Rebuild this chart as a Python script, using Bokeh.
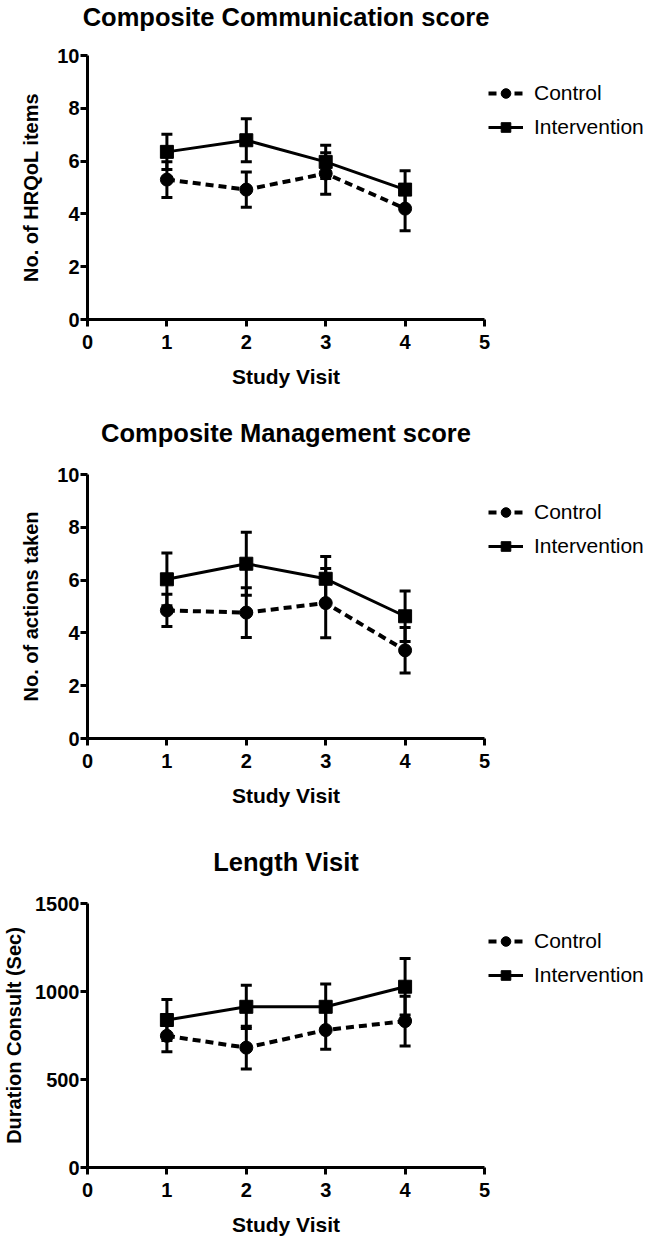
from bokeh.plotting import figure
from bokeh.models import (Range1d, Legend, LegendItem, Whisker, TeeHead,
                          ColumnDataSource, FixedTicker, LinearAxis)
from bokeh.layouts import column
from bokeh.embed import file_html
from bokeh.resources import INLINE

# ---------------- data ----------------
visits = [1, 2, 3, 4]
x_ticks = [0, 1, 2, 3, 4, 5]

comm_control = [5.30, 4.92, 5.53, 4.20]
comm_control_sem = [0.68, 0.67, 0.79, 0.84]
comm_interv = [6.35, 6.79, 5.97, 4.92]
comm_interv_sem = [0.67, 0.81, 0.63, 0.71]
comm_yticks = [0, 2, 4, 6, 8, 10]

mgmt_control = [4.85, 4.77, 5.13, 3.34]
mgmt_control_sem = [0.61, 0.94, 1.31, 0.86]
mgmt_interv = [6.03, 6.62, 6.05, 4.63]
mgmt_interv_sem = [1.00, 1.19, 0.84, 0.96]
mgmt_yticks = [0, 2, 4, 6, 8, 10]

len_control = [748, 681, 781, 832]
len_control_sem = [91, 121, 109, 141]
len_interv = [838, 913, 913, 1027]
len_interv_sem = [117, 123, 129, 160]
len_yticks = [0, 500, 1000, 1500]

FONT = "Liberation Sans"


def make_source(means, sems):
    return ColumnDataSource(dict(
        x=visits, y=means,
        lo=[m - s for m, s in zip(means, sems)],
        hi=[m + s for m, s in zip(means, sems)],
    ))


def panel(title, ylabel, ymax, yticks, ctl, ctl_sem, itv, itv_sem,
          top_border, bottom_border, ylabel_standoff, title_gap):
    p = figure(frame_width=397, frame_height=264,
               x_range=Range1d(0, 5), y_range=Range1d(0, ymax),
               output_backend="svg", toolbar_location=None,
               min_border_left=82, min_border_right=158,
               min_border_top=top_border, min_border_bottom=bottom_border,
               background_fill_color="white", border_fill_color="white",
               outline_line_color=None)
    p.title.text = title
    p.title.align = "center"
    p.title.text_font = FONT
    p.title.text_font_size = "25.5px"
    p.title.text_font_style = "bold"
    p.title.text_color = "black"
    p.title.standoff = 0

    p.xgrid.visible = False
    p.ygrid.visible = False
    xa = p.below[0]
    ya = p.left[0]
    for ax in (xa, ya):
        ax.axis_line_width = 3
        ax.axis_line_color = "black"
        ax.major_tick_line_width = 3
        ax.major_tick_line_color = "black"
        ax.major_tick_in = 0
        ax.major_tick_out = 7
        ax.minor_tick_line_color = None
        ax.major_label_text_font = FONT
        ax.major_label_text_font_size = "20px"
        ax.major_label_text_font_style = "bold"
        ax.major_label_text_color = "black"
        ax.axis_label_text_font = FONT
        ax.axis_label_text_font_style = "bold"
        ax.axis_label_text_color = "black"
    xa.ticker = FixedTicker(ticks=x_ticks)
    ya.ticker = FixedTicker(ticks=yticks)
    xa.major_label_standoff = 8
    ya.major_label_standoff = 1
    xa.axis_label = "Study Visit"
    xa.axis_label_text_font_size = "21px"
    xa.axis_label_standoff = 13
    ya.axis_label = ylabel
    ya.axis_label_text_font_size = "20px"
    ya.axis_label_standoff = ylabel_standoff

    # invisible spacer between the title and the plotting area
    gap = LinearAxis(ticker=FixedTicker(ticks=[2.5]), axis_line_color=None,
                     major_tick_line_color=None, minor_tick_line_color=None,
                     major_tick_in=0, major_tick_out=title_gap, minor_tick_in=0,
                     minor_tick_out=0, major_label_standoff=0,
                     major_label_overrides={2.5: " "},
                     major_label_text_font_size="1px",
                     major_label_text_alpha=0)
    p.add_layout(gap, "above")

    src_c = make_source(ctl, ctl_sem)
    src_i = make_source(itv, itv_sem)

    for src in (src_c, src_i):
        p.add_layout(Whisker(source=src, base="x", upper="hi", lower="lo",
                             line_width=3, line_color="black",
                             upper_head=TeeHead(size=11, line_width=3, line_color="black"),
                             lower_head=TeeHead(size=11, line_width=3, line_color="black")))

    c_line = p.line("x", "y", source=src_c, line_width=4, line_color="black",
                    line_dash="8 5")
    c_pts = p.scatter("x", "y", source=src_c, marker="circle", size=13,
                      fill_color="black", line_color="black")
    i_line = p.line("x", "y", source=src_i, line_width=3, line_color="black")
    i_pts = p.scatter("x", "y", source=src_i, marker="square", size=13,
                      fill_color="black", line_color="black")

    legend = Legend(items=[
        LegendItem(label="Control", renderers=[c_line, c_pts]),
        LegendItem(label="Intervention", renderers=[i_line, i_pts]),
    ], location=(4, 180))
    legend.border_line_color = None
    legend.background_fill_alpha = 0
    legend.padding = 0
    legend.margin = 0
    legend.spacing = 10
    legend.glyph_width = 35
    legend.glyph_height = 24
    legend.label_height = 24
    legend.label_standoff = 11
    legend.label_text_font = FONT
    legend.label_text_font_size = "21px"
    legend.label_text_color = "black"
    p.add_layout(legend, "right")
    return p


p1 = panel("Composite Communication score", "No. of HRQoL items", 10, comm_yticks,
           comm_control, comm_control_sem, comm_interv, comm_interv_sem,
           55, 76, 12, 25)
p2 = panel("Composite Management score", "No. of actions taken", 10, mgmt_yticks,
           mgmt_control, mgmt_control_sem, mgmt_interv, mgmt_interv_sem,
           79, 72, 12, 28)
p3 = panel("Length Visit", "Duration Consult (Sec)", 1500, len_yticks,
           len_control, len_control_sem, len_interv, len_interv_sem,
           93, 66, 7, 28)

layout = column(p1, p2, p3, spacing=0)
open("out.html", "w").write(file_html(layout, INLINE))
